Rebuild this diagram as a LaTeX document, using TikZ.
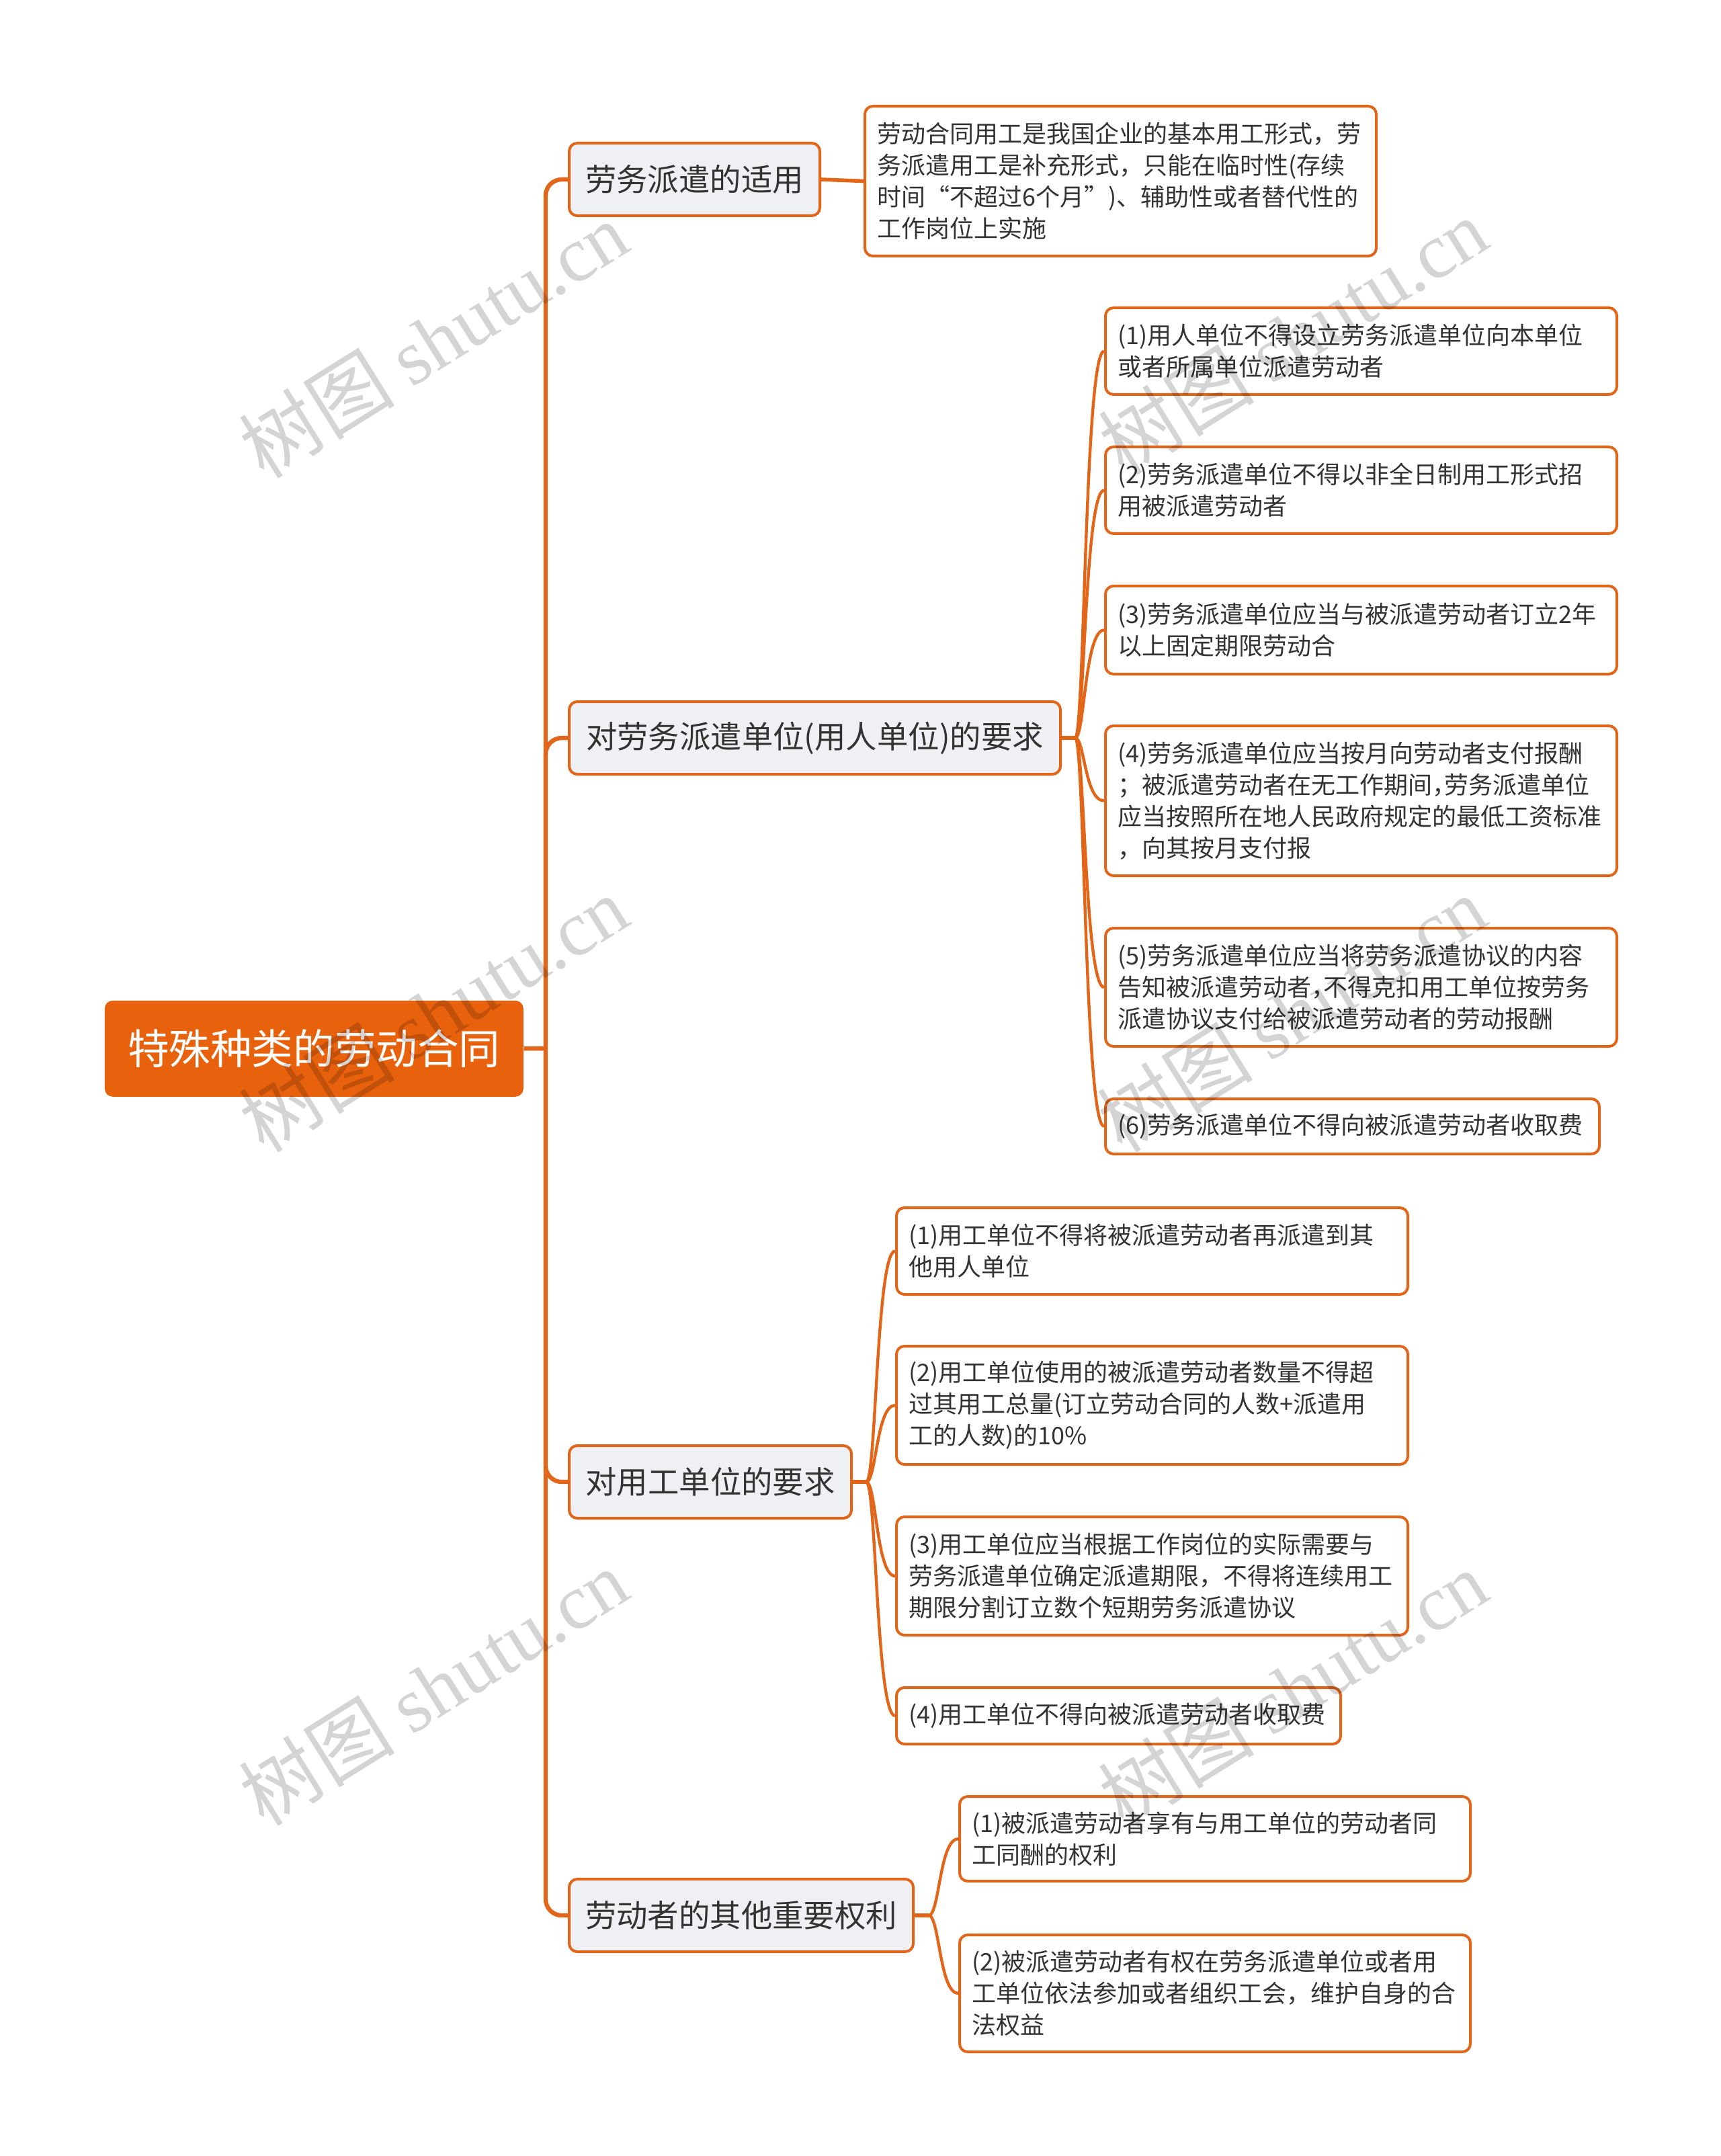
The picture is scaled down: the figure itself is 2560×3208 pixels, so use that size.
\documentclass[tikz,border=0pt]{standalone}
\usepackage{fontspec}
\setmainfont{Noto Sans CJK SC}
\newfontfamily\wmcjk{Noto Sans CJK SC}
\newfontfamily\wmlat{Liberation Serif}
\newcommand\hp[1]{{\addfontfeature{RawFeature=+halt}#1}}
\definecolor{lineor}{HTML}{E2661A}
\definecolor{rootor}{HTML}{E8610D}
\definecolor{brfill}{HTML}{EEF0F3}
\definecolor{textc}{HTML}{333333}
\tikzset{
  rootbox/.style={fill=rootor, draw=none, rounded corners=3pt, text=white,
    font=\fontsize{15.4}{18}\selectfont, minimum width=155.75pt, minimum height=35.75pt,
    inner sep=0pt, anchor=north west},
  branchbox/.style={fill=brfill, draw=lineor, line width=1pt, rounded corners=3pt, text=textc,
    font=\fontsize{11.6}{14}\selectfont, minimum height=27pt, inner sep=0pt, anchor=west},
  leafbox/.style={fill=white, draw=lineor, line width=1pt, rounded corners=3pt, text=textc,
    font=\fontsize{9}{11.75}\selectfont, align=left, inner xsep=4.5pt, inner ysep=0pt,
    anchor=north west},
  trunkline/.style={draw=lineor, line width=1.6pt, rounded corners=6pt},
  leafline/.style={draw=lineor, line width=1.1pt},
  wmark/.style={text=black, text opacity=0.17, rotate=32, font=\fontsize{29}{29}\selectfont}
}
\begin{document}
\begin{tikzpicture}[x=0.25pt, y=-0.25pt]
\fill[white] (0,0) rectangle (2560,3208);
\useasboundingbox (0,0) rectangle (2560,3208);

% root
\node[rootbox] (root) at (155,1488) {特殊种类的劳动合同};

% branches
\node[branchbox, minimum width=93.25pt] (b1) at (845,267) {劳务派遣的适用};
\node[branchbox, minimum width=182.75pt] (b2) at (845,1098) {对劳务派遣单位(用人单位)的要求};
\node[branchbox, minimum width=105pt] (b3) at (845,2205) {对用工单位的要求};
\node[branchbox, minimum width=128pt] (b4) at (845,2850) {劳动者的其他重要权利};

% leaves
\node[leafbox, minimum width=190.25pt, text width=181.25pt, minimum height=55.75pt] (a1) at (1285,156)
  {劳动合同用工是我国企业的基本用工形式，劳\\务派遣用工是补充形式，只能在临时性(存续\\时间“不超过6个月”)、辅助性或者替代性的\\工作岗位上实施};

\node[leafbox, minimum width=190.25pt, text width=181.25pt, minimum height=32.25pt] (c1) at (1643,456)
  {(1)用人单位不得设立劳务派遣单位向本单位\\或者所属单位派遣劳动者};
\node[leafbox, minimum width=190.25pt, text width=181.25pt, minimum height=32.25pt] (c2) at (1643,663)
  {(2)劳务派遣单位不得以非全日制用工形式招\\用被派遣劳动者};
\node[leafbox, minimum width=190.25pt, text width=181.25pt, minimum height=32.75pt] (c3) at (1643,870)
  {(3)劳务派遣单位应当与被派遣劳动者订立2年\\以上固定期限劳动合};
\node[leafbox, minimum width=190.25pt, text width=181.25pt, minimum height=55.75pt] (c4) at (1643,1078)
  {(4)劳务派遣单位应当按月向劳动者支付报酬\\；被派遣劳动者在无工作期间\hp{，}劳务派遣单位\\应当按照所在地人民政府规定的最低工资标准\\，向其按月支付报};
\node[leafbox, minimum width=190.25pt, text width=181.25pt, minimum height=44pt] (c5) at (1643,1379)
  {(5)劳务派遣单位应当将劳务派遣协议的内容\\告知被派遣劳动者\hp{，}不得克扣用工单位按劳务\\派遣协议支付给被派遣劳动者的劳动报酬};
\node[leafbox, minimum width=183.75pt, text width=174.75pt, minimum height=20.5pt] (c6) at (1643,1633)
  {(6)劳务派遣单位不得向被派遣劳动者收取费};

\node[leafbox, minimum width=190.25pt, text width=181.25pt, minimum height=32.25pt] (d1) at (1332,1795)
  {(1)用工单位不得将被派遣劳动者再派遣到其\\他用人单位};
\node[leafbox, minimum width=190.25pt, text width=181.25pt, minimum height=44pt] (d2) at (1332,2001)
  {(2)用工单位使用的被派遣劳动者数量不得超\\过其用工总量(订立劳动合同的人数+派遣用\\工的人数)的10\%};
\node[leafbox, minimum width=190.25pt, text width=181.25pt, minimum height=44pt] (d3) at (1332,2255)
  {(3)用工单位应当根据工作岗位的实际需要与\\劳务派遣单位确定派遣期限，不得将连续用工\\期限分割订立数个短期劳务派遣协议};
\node[leafbox, minimum width=165.25pt, text width=156.25pt, minimum height=21pt] (d4) at (1332,2509)
  {(4)用工单位不得向被派遣劳动者收取费};

\node[leafbox, minimum width=190pt, text width=181pt, minimum height=31.5pt] (e1) at (1426,2671)
  {(1)被派遣劳动者享有与用工单位的劳动者同\\工同酬的权利};
\node[leafbox, minimum width=190pt, text width=181pt, minimum height=43.5pt] (e2) at (1426,2877)
  {(2)被派遣劳动者有权在劳务派遣单位或者用\\工单位依法参加或者组织工会，维护自身的合\\法权益};

% trunk
\coordinate (tc) at (812,1560);
\draw[draw=lineor, line width=1.6pt] (root.east) -- (tc);
\draw[trunkline] (tc) -- (tc |- b1.west) -- (b1.west);
\draw[trunkline] (tc) -- (tc |- b2.west) -- (b2.west);
\draw[trunkline] (tc) -- (tc |- b3.west) -- (b3.west);
\draw[trunkline] (tc) -- (tc |- b4.west) -- (b4.west);

% branch 1
\draw[draw=lineor, line width=1.4pt] (b1.east) -- (a1.west);

% branch 2
\draw[draw=lineor, line width=1.4pt] (b2.east) -- ++(20,0) coordinate (j2);
\coordinate (s2) at (1614,0);
\foreach \c in {c1,c2,c3,c4,c5,c6}{
  \draw[leafline] (j2) .. controls (j2 -| s2) and (s2 |- \c.west) .. (\c.west);
}

% branch 3
\draw[draw=lineor, line width=1.4pt] (b3.east) -- ++(20,0) coordinate (j3);
\coordinate (s3) at (1304,0);
\foreach \c in {d1,d2,d3,d4}{
  \draw[leafline] (j3) .. controls (j3 -| s3) and (s3 |- \c.west) .. (\c.west);
}

% branch 4
\draw[draw=lineor, line width=1.4pt] (b4.east) -- ++(21,0) coordinate (j4);
\coordinate (s4) at (1398,0);
\foreach \c in {e1,e2}{
  \draw[leafline] (j4) .. controls (j4 -| s4) and (s4 |- \c.west) .. (\c.west);
}

% watermarks
\node[wmark] (w1) at (645,505) {{\wmcjk 树图} {\wmlat shutu.cn}};
\node[wmark] (w2) at (1924,500) {{\wmcjk 树图} {\wmlat shutu.cn}};
\node[wmark] (w3) at (645,1508) {{\wmcjk 树图} {\wmlat shutu.cn}};
\node[wmark] (w4) at (1922,1508) {{\wmcjk 树图} {\wmlat shutu.cn}};
\node[wmark] (w5) at (645,2510) {{\wmcjk 树图} {\wmlat shutu.cn}};
\node[wmark] (w6) at (1924,2512) {{\wmcjk 树图} {\wmlat shutu.cn}};
\end{tikzpicture}
\end{document}
